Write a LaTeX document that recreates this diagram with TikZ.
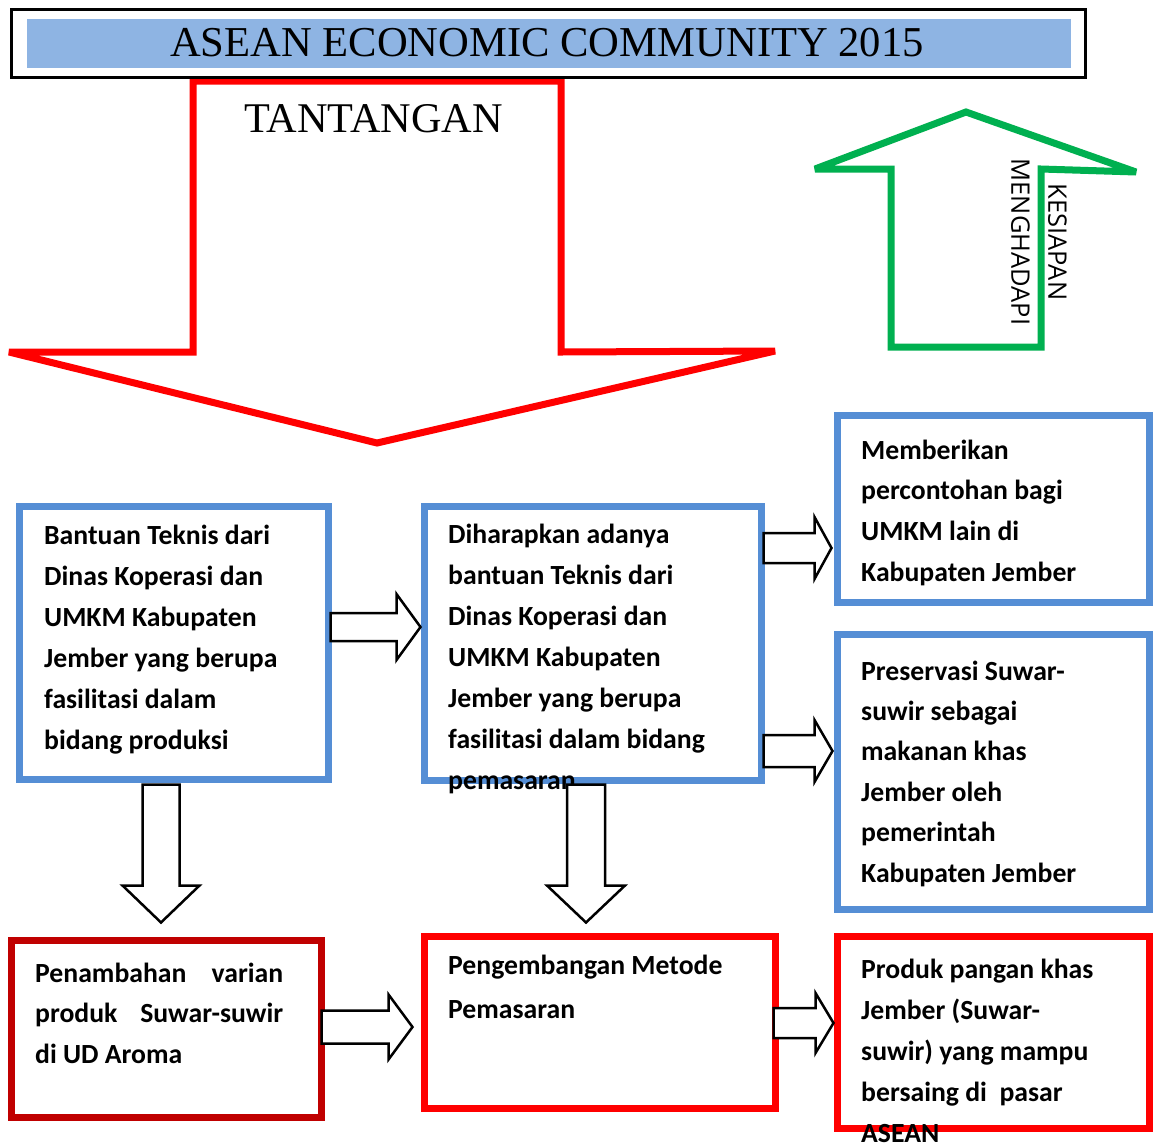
\documentclass[tikz,border=0pt]{standalone}
\usepackage{fontspec}
\setmainfont{Liberation Serif}
\newfontfamily\boxfont{Carlito}
\newfontfamily\opensans{Open Sans}
\usetikzlibrary{calc}
\definecolor{boxblue}{HTML}{558ED5}
\definecolor{titleblue}{HTML}{8EB4E3}
\definecolor{darkred}{HTML}{C00000}
\definecolor{arrowgreen}{HTML}{00B050}
\newcommand\harrowdraw[5]{%
  \draw[blockarrow] let \p1=(#1), \p2=(#2) in
    (\x1,{\y2+#4pt}) -- ({\x2-#3pt},{\y2+#4pt}) -- ({\x2-#3pt},{\y2+#5pt}) -- (\x2,\y2)
    -- ({\x2-#3pt},{\y2-#5pt}) -- ({\x2-#3pt},{\y2-#4pt}) -- (\x1,{\y2-#4pt}) -- cycle;}
\newcommand\varrowdraw[5]{%
  \draw[blockarrow] let \p1=(#1), \p2=(#2) in
    ({\x2-#4pt},\y1) -- ({\x2-#4pt},{\y2+#3pt}) -- ({\x2-#5pt},{\y2+#3pt}) -- (\x2,\y2)
    -- ({\x2+#5pt},{\y2+#3pt}) -- ({\x2+#4pt},{\y2+#3pt}) -- ({\x2+#4pt},\y1) -- cycle;}
\begin{document}
\begin{tikzpicture}[x=1pt,y=-1pt,
  bluebox/.style={draw=boxblue,line width=7pt,rectangle,inner sep=0pt},
  redbox/.style={draw=red,line width=7pt,rectangle,inner sep=0pt},
  darkredbox/.style={draw=darkred,line width=7pt,rectangle,inner sep=0pt},
  boxtext/.style={anchor=base west,inner sep=0pt,font=\boxfont\bfseries\fontsize{27.7}{41}\selectfont},
  blockarrow/.style={draw=black,fill=white,line width=2.5pt,line join=miter},
  bigarrow/.style={line width=7pt,line join=miter,miter limit=2,fill=white}
]
\useasboundingbox (0,0) rectangle (1154,1144);
\fill[white] (0,0) rectangle (1154,1144);

% big red arrow (challenges)
\draw[bigarrow,draw=red] (193,81) -- (193,352) -- (9,352) -- (377,443) -- (775,351) -- (561,352) -- (561,81) -- cycle;
\node[anchor=base,inner sep=0pt,font=\fontsize{42.3}{48}\selectfont] (tant) at (373.5,132) {TANTANGAN};

% green arrow (readiness)
\draw[bigarrow,draw=arrowgreen] (891,347) -- (891,169) -- (815,169) -- (966,112) -- (1136,172) -- (1041,169) -- (1041,347) -- cycle;
\node[rotate=-90,inner sep=0pt,align=center,font=\opensans\fontsize{25.5}{37}\selectfont] (kes) at (1039,242) {KESIAPAN\\MENGHADAPI};

% title
\draw[line width=3pt,fill=white] (11.5,9.5) rectangle (1085.5,77);
\fill[titleblue] (27,19) rectangle (1071,68);
\node[anchor=base,inner sep=0pt,font=\fontsize{42.6}{50}\selectfont] (title) at (547,56) {ASEAN ECONOMIC COMMUNITY 2015};

% boxes
\node[bluebox,minimum width=309pt,minimum height=273pt] (box1) at (173.5,642.5) {};
\node[bluebox,minimum width=337pt,minimum height=274pt] (box2) at (592.5,643) {};
\node[bluebox,minimum width=312pt,minimum height=187pt] (box3) at (993,508.5) {};
\node[bluebox,minimum width=312pt,minimum height=275pt] (box4) at (993,771.5) {};
\node[darkredbox,minimum width=310pt,minimum height=177pt] (box5) at (166,1028.5) {};
\node[redbox,minimum width=351pt,minimum height=172pt] (box6) at (599.5,1022) {};
\node[redbox,minimum width=312pt,minimum height=192pt] (box7) at (993,1032) {};

% texts
\node[boxtext] (t1) at (44,544) {\parbox[t]{290pt}{Bantuan Teknis dari\\Dinas Koperasi dan\\UMKM Kabupaten\\Jember yang berupa\\fasilitasi dalam\\bidang produksi}};
\node[boxtext] (t2) at (448,543) {\parbox[t]{320pt}{Diharapkan adanya\\bantuan Teknis dari\\Dinas Koperasi dan\\UMKM Kabupaten\\Jember yang berupa\\fasilitasi dalam bidang\\pemasaran}};
\node[boxtext] (t3) at (861,459) {\parbox[t]{290pt}{\baselineskip=40.7pt Memberikan\\percontohan bagi\\UMKM lain di\\Kabupaten Jember}};
\node[boxtext] (t4) at (861,680) {\parbox[t]{290pt}{\baselineskip=40.4pt Preservasi Suwar-\\suwir sebagai\\makanan khas\\Jember oleh\\pemerintah\\Kabupaten Jember}};
\node[boxtext] (t5) at (35,982) {\parbox[t]{290pt}{\baselineskip=40.5pt \hbox to 248pt{Penambahan\hfill varian}\hbox to 248pt{produk\hfill Suwar-suwir}\hbox{di UD Aroma}}};
\node[boxtext] (t6) at (448,974) {\parbox[t]{320pt}{\baselineskip=44pt Pengembangan Metode\\Pemasaran}};
\node[boxtext] (t7) at (861,978) {\parbox[t]{290pt}{Produk pangan khas\\Jember (Suwar-\\suwir) yang mampu\\bersaing di\ \ pasar\\ASEAN}};

% arrow end points
\coordinate (a1s) at ($(box1.east)+(-1,-15.5)$);
\coordinate (a1e) at ($(box2.west)+(0,-16)$);
\coordinate (a2s) at ($(box2.east)+(-1,-95)$);
\coordinate (a2e) at ($(box3.west)+(-2,39.5)$);
\coordinate (a3s) at ($(box2.east)+(-1,108)$);
\coordinate (a3e) at ($(box4.west)+(-1,-20.5)$);
\coordinate (a4s) at ($(box1.south)+(-12.5,2)$);
\coordinate (a4e) at ($(box5.north)+(-5,-14)$);
\coordinate (a5s) at ($(box2.south)+(-6.5,1)$);
\coordinate (a5e) at ($(box6.north)+(-13.5,-10)$);
\coordinate (a6s) at ($(box5.east)+(-3,-1.5)$);
\coordinate (a6e) at ($(box6.west)+(-8,5)$);
\coordinate (a7s) at ($(box6.east)+(-5,1)$);
\coordinate (a7e) at ($(box7.west)+(0,-9)$);

\harrowdraw{a1s}{a1e}{24}{14}{33}
\harrowdraw{a2s}{a2e}{17}{15}{31}
\harrowdraw{a3s}{a3e}{18}{16}{31}
\varrowdraw{a4s}{a4e}{37}{18.5}{38.5}
\varrowdraw{a5s}{a5e}{37}{19}{39}
\harrowdraw{a6s}{a6e}{24}{16.5}{32.5}
\harrowdraw{a7s}{a7e}{18}{15}{30}
\end{tikzpicture}
\end{document}
